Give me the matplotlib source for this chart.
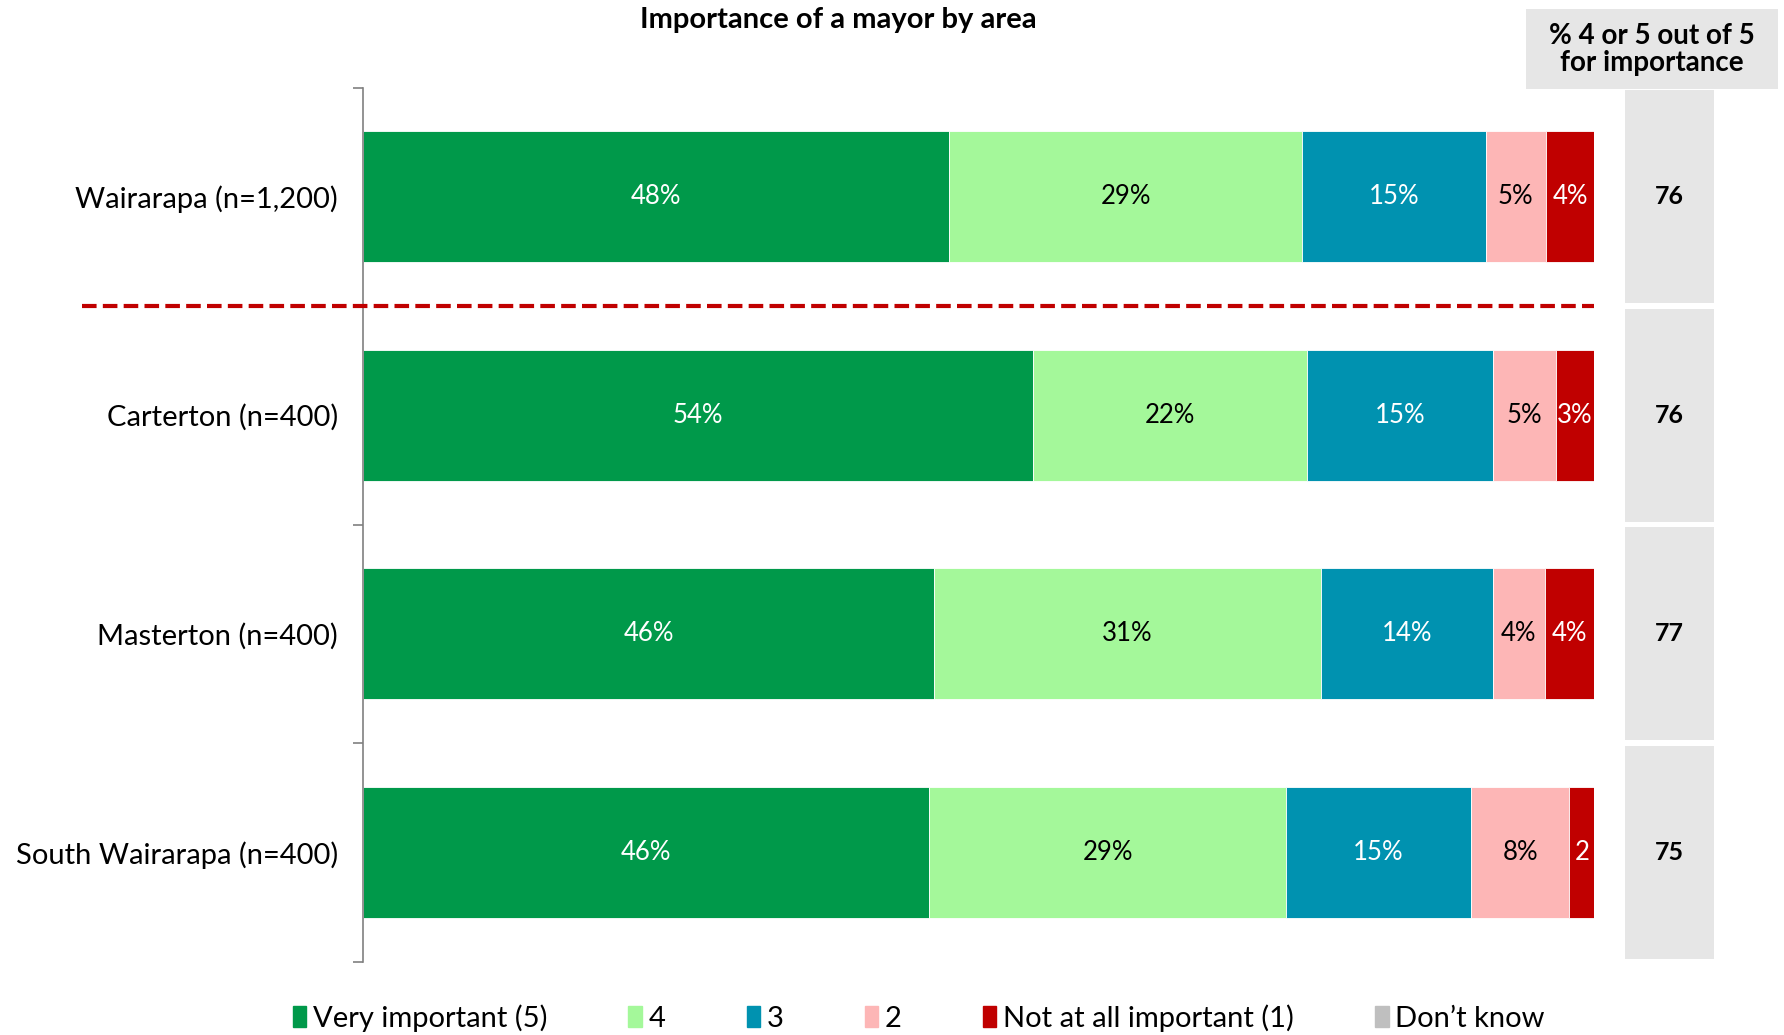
import numpy as np
import matplotlib.pyplot as plt
from matplotlib.patches import Patch, Rectangle
import matplotlib.transforms as mtransforms

plt.rcParams['font.family'] = ['Lato', 'DejaVu Sans']

# data
areas = ['Wairarapa (n=1,200)', 'Carterton (n=400)', 'Masterton (n=400)', 'South Wairarapa (n=400)']
series = ['Very important (5)', '4', '3', '2', 'Not at all important (1)', "Don\u2019t know"]
very_important = [47.6, 54.4, 46.4, 46.0]
four = [28.7, 22.3, 31.4, 29.0]
three = [14.9, 15.1, 14.0, 15.0]
two = [4.9, 5.1, 4.2, 8.0]
not_important = [3.9, 3.1, 4.0, 2.0]
dont_know = [0, 0, 0, 0]
net_important = [76, 76, 77, 75]

colors = ['#00994a', '#a4f89a', '#0092b0', '#fdb6b6', '#c00000', '#bfbfbf']
text_colors = ['white', 'black', 'white', 'black', 'white', 'black']

values = np.array([very_important, four, three, two, not_important, dont_know])
y = np.arange(len(areas))

fig = plt.figure(figsize=(17.84, 10.35), dpi=100)
ax = fig.add_axes([0.2035, 0.0710, 0.690, 0.8444])

left = np.zeros(len(areas))
for i, name in enumerate(series):
    vals = values[i]
    ax.barh(y, vals, left=left, height=0.6, color=colors[i], edgecolor='white',
            linewidth=0.6, label=name)
    for j, v in enumerate(vals):
        if v <= 0:
            continue
        lab = f'{v:.0f}%' if v >= 3 else f'{v:.0f}'
        ax.text(left[j] + v / 2, y[j], lab, ha='center', va='center',
                color=text_colors[i], fontsize=18.5)
    left += vals

ax.set_xlim(0, 100)
ax.set_ylim(3.5, -0.5)
ax.set_yticks(y)
ax.set_yticklabels(areas, fontsize=21)
ax.tick_params(axis='y', which='major', length=0, pad=18)
ax.set_yticks(np.arange(-0.5, 4, 1), minor=True)
ax.tick_params(axis='y', which='minor', length=7, color='#808080', width=1.2)
ax.set_xticks([])
for s in ['top', 'right', 'bottom']:
    ax.spines[s].set_visible(False)
ax.spines['left'].set_color('#808080')
ax.spines['left'].set_linewidth(1.2)

# separator between total and areas
trans = mtransforms.blended_transform_factory(fig.transFigure, ax.transData)
ax.plot([0.046, 0.8935], [0.5, 0.5], transform=trans, color='#c00000', lw=3,
        dashes=(3.5, 1.5), clip_on=False, zorder=5)

# net score column
ax2 = fig.add_axes([0.911, 0.0710, 0.050, 0.8444])
ax2.set_xlim(0, 1)
ax2.set_ylim(3.5, -0.5)
ax2.barh(y, [1] * len(y), height=0.975, color='#e6e6e6')
for j, n in enumerate(net_important):
    ax2.text(0.5, y[j], str(n), ha='center', va='center', fontsize=18,
             fontweight='bold')
ax2.axis('off')

fig.patches.append(Rectangle((0.8554, 0.914), 0.1412, 0.077, transform=fig.transFigure,
                             fc='#e6e6e6', ec='none'))
fig.text(0.926, 0.9525, '% 4 or 5 out of 5\nfor importance', ha='center', va='center',
         fontsize=20, fontweight='bold', linespacing=1.05)

fig.text(0.4697, 0.981, 'Importance of a mayor by area', ha='center', va='center',
         fontsize=21, fontweight='bold')

handles = [Patch(color=c) for c in colors]
fig.legend(handles, series, loc='center', bbox_to_anchor=(0.515, 0.0165), ncol=6,
           frameon=False, fontsize=21, handlelength=0.47, handleheight=0.75,
           handletextpad=0.23, columnspacing=2.77)

fig.savefig('out.png', dpi=100)
